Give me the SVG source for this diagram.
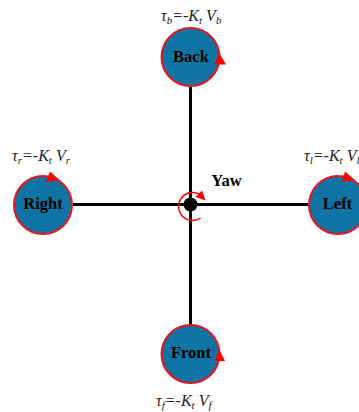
<svg xmlns="http://www.w3.org/2000/svg" width="359" height="412" viewBox="0 0 359 412">
<style>
.rotor{fill:#0f74a3;stroke:#e8141f;stroke-width:2}
.arm{stroke:#000;stroke-width:3;fill:none}
.head{fill:#ff0000}
.name{font-family:"Liberation Serif",serif;font-weight:bold;font-size:16.5px;text-anchor:middle;fill:#000}
.eq{font-family:"Liberation Serif",serif;font-style:italic;font-size:16px;fill:#222}
.sub{font-size:11px}
</style>
<g id="connectors">
<line class="arm" x1="190.5" y1="86" x2="190.5" y2="325"/>
<line class="arm" x1="73" y1="204.5" x2="308" y2="204.5"/>
</g>
<g id="back">
<circle class="rotor" cx="190.5" cy="57" r="29"/>
<polygon class="head" points="219.5,53.5 226,64.5 214.5,64.5"/>
<text class="name" x="191" y="62">Back</text>
<text class="eq" x="161" y="21">τ<tspan class="sub" dy="3">b</tspan><tspan dy="-3">=-K</tspan><tspan class="sub" dy="3">t</tspan><tspan dy="-3"> V</tspan><tspan class="sub" dy="3">b</tspan></text>
</g>
<g id="right">
<circle class="rotor" cx="43" cy="205" r="29"/>
<polygon class="head" points="50,171.5 59.5,180 46,182"/>
<text class="name" x="43" y="209">Right</text>
<text class="eq" x="12" y="160.5">τ<tspan class="sub" dy="3">r</tspan><tspan dy="-3">=-K</tspan><tspan class="sub" dy="3">t</tspan><tspan dy="-3"> V</tspan><tspan class="sub" dy="3">r</tspan></text>
</g>
<g id="left">
<circle class="rotor" cx="338" cy="205" r="29"/>
<polygon class="head" points="345,171.5 355,180 342,182"/>
<text class="name" x="337.5" y="209">Left</text>
<text class="eq" x="304" y="160.5">τ<tspan class="sub" dy="3">l</tspan><tspan dy="-3">=-K</tspan><tspan class="sub" dy="3">t</tspan><tspan dy="-3"> V</tspan><tspan class="sub" dy="3">l</tspan></text>
</g>
<g id="front">
<circle class="rotor" cx="190.5" cy="354" r="29"/>
<polygon class="head" points="219.5,350 225,361 214.5,361"/>
<text class="name" x="191" y="358">Front</text>
<text class="eq" x="156" y="405.5">τ<tspan class="sub" dy="3">f</tspan><tspan dy="-3">=-K</tspan><tspan class="sub" dy="3">t</tspan><tspan dy="-3"> V</tspan><tspan class="sub" dy="3">f</tspan></text>
</g>
<g id="yaw">
<circle cx="190.5" cy="204.5" r="7" fill="#000"/>
<path d="M200.5,218 A14,14 0 1 1 199,194" fill="none" stroke="#ff0000" stroke-width="1.5"/>
<polygon class="head" points="202,190.5 205.5,200.5 195.5,197"/>
<text class="name" x="226.5" y="186">Yaw</text>
</g>
</svg>
